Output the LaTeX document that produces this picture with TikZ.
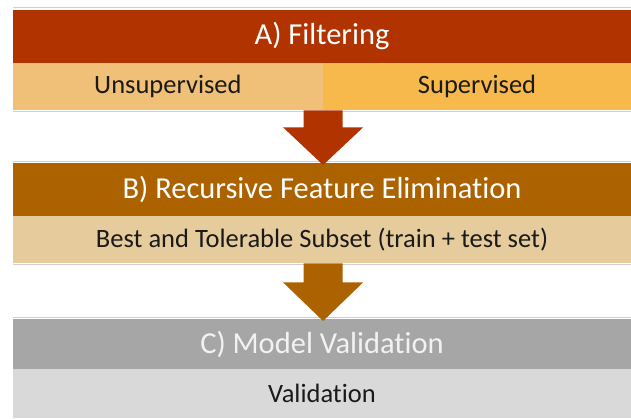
\documentclass[tikz,border=0pt]{standalone}
\usepackage{fontspec}
\setmainfont{Carlito}[Ligatures=CommonOff]
\usetikzlibrary{calc}

\definecolor{rustA}{HTML}{B03300}
\definecolor{lightA}{HTML}{F0C078}
\definecolor{goldA}{HTML}{F7B94B}
\definecolor{brownB}{HTML}{AD6200}
\definecolor{sandB}{HTML}{E6CC9C}
\definecolor{greyC}{HTML}{A6A6A6}
\definecolor{paleC}{HTML}{D9D9D9}
\definecolor{edge}{HTML}{D0D0D0}
\definecolor{ink}{HTML}{1A1A1A}

\tikzset{
  band/.style={rectangle, inner sep=0pt, anchor=north west, minimum width=618.3pt,
    text=white, font=\fontsize{30.5}{33}\selectfont},
  subrow/.style={rectangle, inner sep=0pt, anchor=north west,
    text=ink, font=\fontsize{26.5}{29}\selectfont}
}

\begin{document}
\begin{tikzpicture}[x=1pt,y=-1pt]
  \useasboundingbox (0,0) rectangle (631,418);

  % faint frame lines around each stage
  \draw[edge, line width=0.8pt] (12.7,7.8) -- (631,7.8);
  \draw[edge, line width=0.8pt] (12.7,111.3) -- (631,111.3);
  \draw[edge, line width=0.8pt] (12.7,161.6) -- (631,161.6);
  \draw[edge, line width=0.8pt] (12.7,264.3) -- (631,264.3);
  \draw[edge, line width=0.8pt] (12.7,317.6) -- (631,317.6);

  % stage A: filtering
  \node[band, fill=rustA, minimum height=53.7pt] (bandA) at (12.7,9.3) {A) Filtering};
  \node[subrow, fill=lightA, minimum width=310pt, minimum height=47pt] (subAL) at (12.7,63) {Unsupervised};
  \node[subrow, fill=goldA, minimum width=308.3pt, minimum height=47pt] (subAR) at (322.7,63) {Supervised};

  % stage B: recursive feature elimination
  \node[band, fill=brownB, minimum height=53pt] (bandB) at (12.7,163) {B) Recursive Feature Elimination};
  \node[subrow, fill=sandB, minimum width=618.3pt, minimum height=47pt] (subB) at (12.7,216) {Best and Tolerable Subset (train + test set)};

  % stage C: model validation
  \node[band, fill=greyC, minimum height=50pt, text=white!95!black] (bandC) at (12.7,319) {C) Model Validation};
  \node[subrow, fill=paleC, minimum width=618.3pt, minimum height=49pt] (subC) at (12.7,369) {Validation};

  % block arrow from A to B
  \coordinate (a1) at (subAL.south east);
  \coordinate (t1) at ($(bandB.north -| a1)+(0,2)$);
  \fill[rustA] ($(a1)+(-19.5,0)$) -- ($(a1)+(19.5,0)$) -- ($(a1)+(19.5,17)$)
     -- ($(a1)+(40,17)$) -- (t1) -- ($(a1)+(-40,17)$) -- ($(a1)+(-19.5,17)$) -- cycle;

  % block arrow from B to C
  \coordinate (a2) at (subB.south -| a1);
  \coordinate (t2) at ($(bandC.north -| a1)+(0,2)$);
  \fill[brownB] ($(a2)+(-19.5,0)$) -- ($(a2)+(19.5,0)$) -- ($(a2)+(19.5,19)$)
     -- ($(a2)+(40,19)$) -- (t2) -- ($(a2)+(-40,19)$) -- ($(a2)+(-19.5,19)$) -- cycle;
\end{tikzpicture}
\end{document}
